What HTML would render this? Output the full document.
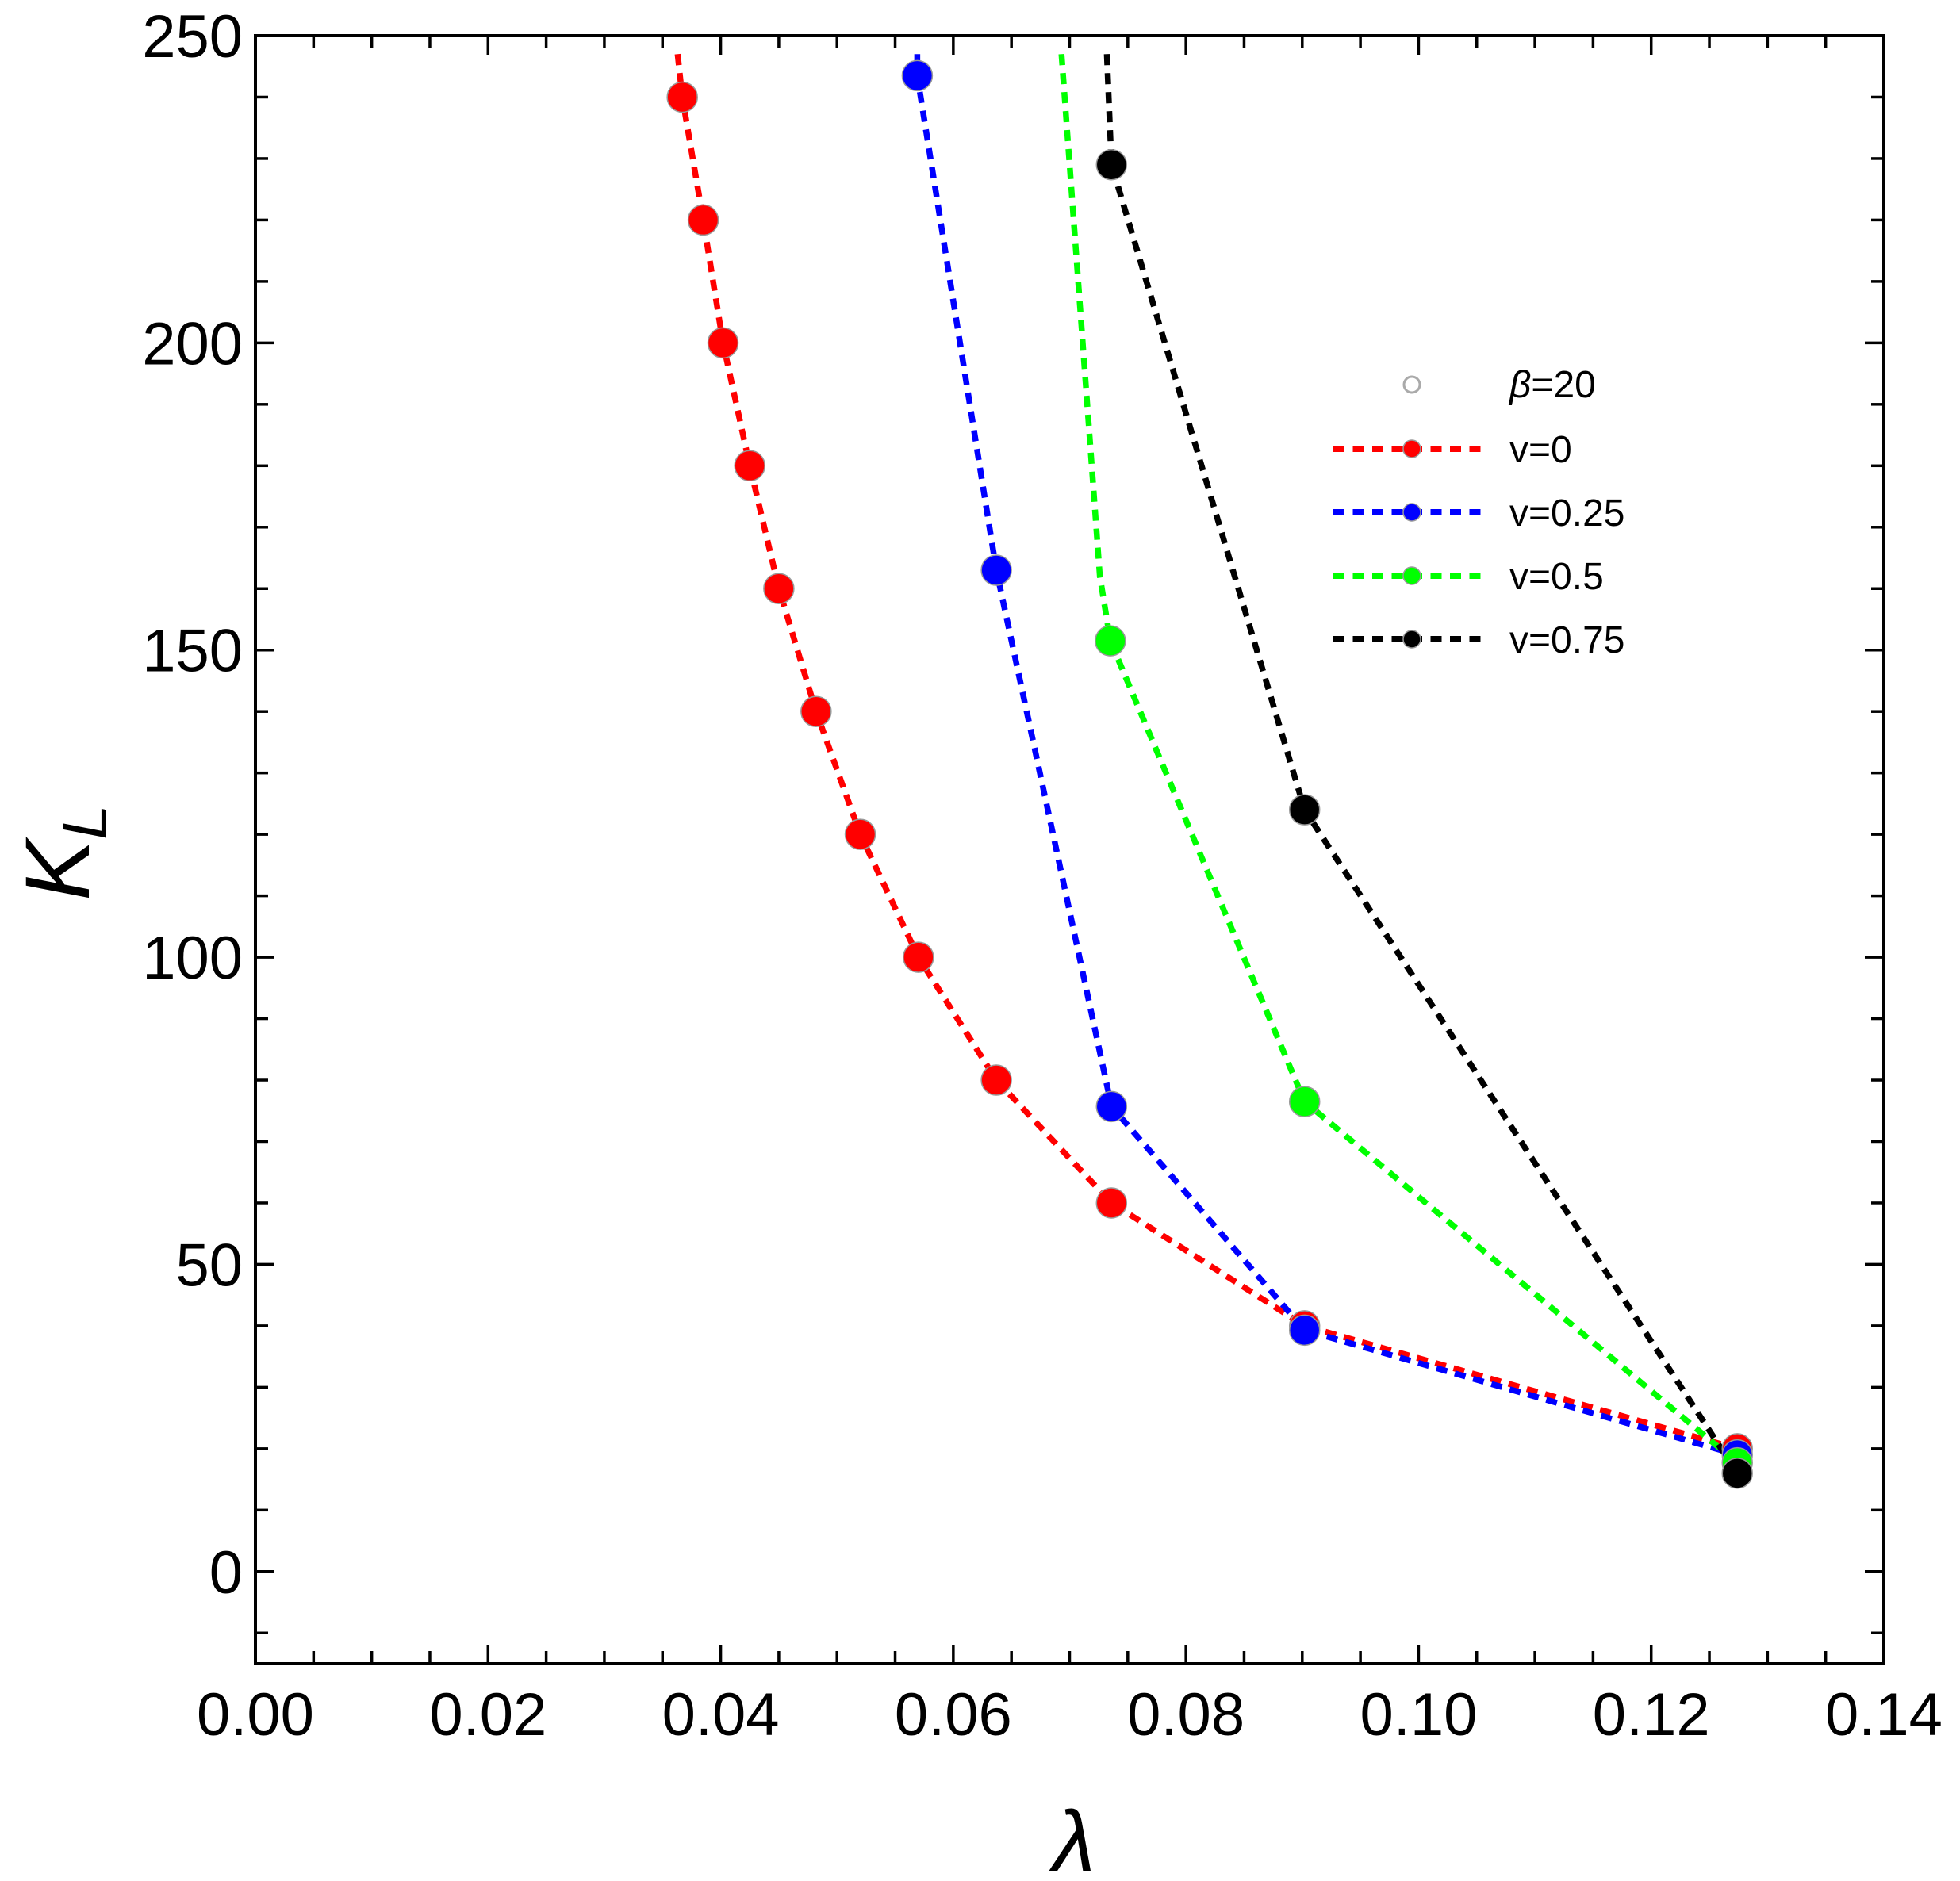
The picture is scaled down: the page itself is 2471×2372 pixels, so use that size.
<!DOCTYPE html>
<html><head><meta charset="utf-8"><style>
html,body{margin:0;padding:0;background:#fff}
svg{display:block}
text{font-family:"Liberation Sans",sans-serif}
</style></head><body>
<svg id="s" width="2471" height="2372" viewBox="0 0 2471 2372" xmlns="http://www.w3.org/2000/svg"></svg>
<script>
const L=322,R=2375,T=45,B=2098;
const X=v=>L+(v/0.14)*(R-L);
const Y=v=>T+(250-v)/(265)*(B-T);
let h='';
h+=`<rect x="${L}" y="${T}" width="${R-L}" height="${B-T}" fill="none" stroke="#000" stroke-width="4"/>`;
for(let v=-10;v<=250;v+=10){const y=Y(v);const len=(v%50==0)?24:16;
h+=`<line x1="${L}" y1="${y}" x2="${L+len}" y2="${y}" stroke="#000" stroke-width="3.5"/>`;
h+=`<line x1="${R}" y1="${y}" x2="${R-len}" y2="${y}" stroke="#000" stroke-width="3.5"/>`;
if(v%50==0)h+=`<text x="306" y="${y+27}" font-size="76" text-anchor="end">${v}</text>`;}
for(let i=0;i<=28;i++){const v=i*0.005;const x=X(v);const len=(i%4==0)?24:16;
h+=`<line x1="${x}" y1="${B}" x2="${x}" y2="${B-len}" stroke="#000" stroke-width="3.5"/>`;
h+=`<line x1="${x}" y1="${T}" x2="${x}" y2="${T+len}" stroke="#000" stroke-width="3.5"/>`;
if(i%4==0)h+=`<text x="${x}" y="2188" font-size="76" text-anchor="middle">${v.toFixed(2)}</text>`;}
h+=`<text transform="translate(112,1075) rotate(-90)" font-size="115" text-anchor="middle"><tspan font-style="italic">K</tspan><tspan font-size="80" font-style="italic" dy="22">L</tspan></text>`;
h+=`<text x="1354" y="2360" font-size="110" font-style="italic" text-anchor="middle">λ</text>`;
const S=[
 ['#ff0000',[[0.0363,247],[0.0367,240],[0.0385,220],[0.0402,200],[0.0425,180],[0.045,160],[0.0482,140],[0.052,120],[0.057,100],[0.0637,80],[0.0736,60],[0.0902,40],[0.1274,20]],1],
 ['#0000ff',[[0.0569,247],[0.0569,243.5],[0.0637,163],[0.0736,75.7],[0.0902,39.3],[0.1274,19]],1],
 ['#00ff00',[[0.0693,247],[0.0726,162],[0.0735,151.5],[0.0902,76.5],[0.1274,17.7]],2],
 ['#000000',[[0.0732,247],[0.0736,229],[0.0902,124],[0.1274,16]],1]];
let dots='';
S.forEach(([c,p,skip])=>{
 h+=`<polyline points="${p.map(q=>X(q[0])+','+Y(q[1])).join(' ')}" fill="none" stroke="${c}" stroke-width="7.5" stroke-dasharray="14 10"/>`;
 p.slice(skip).forEach(q=>{dots+=`<circle cx="${X(q[0])}" cy="${Y(q[1])}" r="19" fill="${c}" stroke="#999" stroke-width="1.5"/>`;});
});
h+=dots;
h+=`<circle cx="1780" cy="485" r="10" fill="none" stroke="#aaa" stroke-width="3"/>`;
h+=`<text x="1903" y="501" font-size="48"><tspan font-style="italic">β</tspan>=20</text>`;
const lg=[['#ff0000','v=0',566],['#0000ff','v=0.25',646],['#00ff00','v=0.5',726],['#000000','v=0.75',806]];
lg.forEach(([c,t,y])=>{
 h+=`<line x1="1681" y1="${y}" x2="1867" y2="${y}" stroke="${c}" stroke-width="8" stroke-dasharray="14 10.5"/>`;
 h+=`<circle cx="1780" cy="${y}" r="11" fill="${c}" stroke="#999" stroke-width="1.5"/>`;
 h+=`<text x="1903" y="${y+17}" font-size="48">${t}</text>`;
});
document.getElementById('s').innerHTML=h;
</script>
</body></html>
